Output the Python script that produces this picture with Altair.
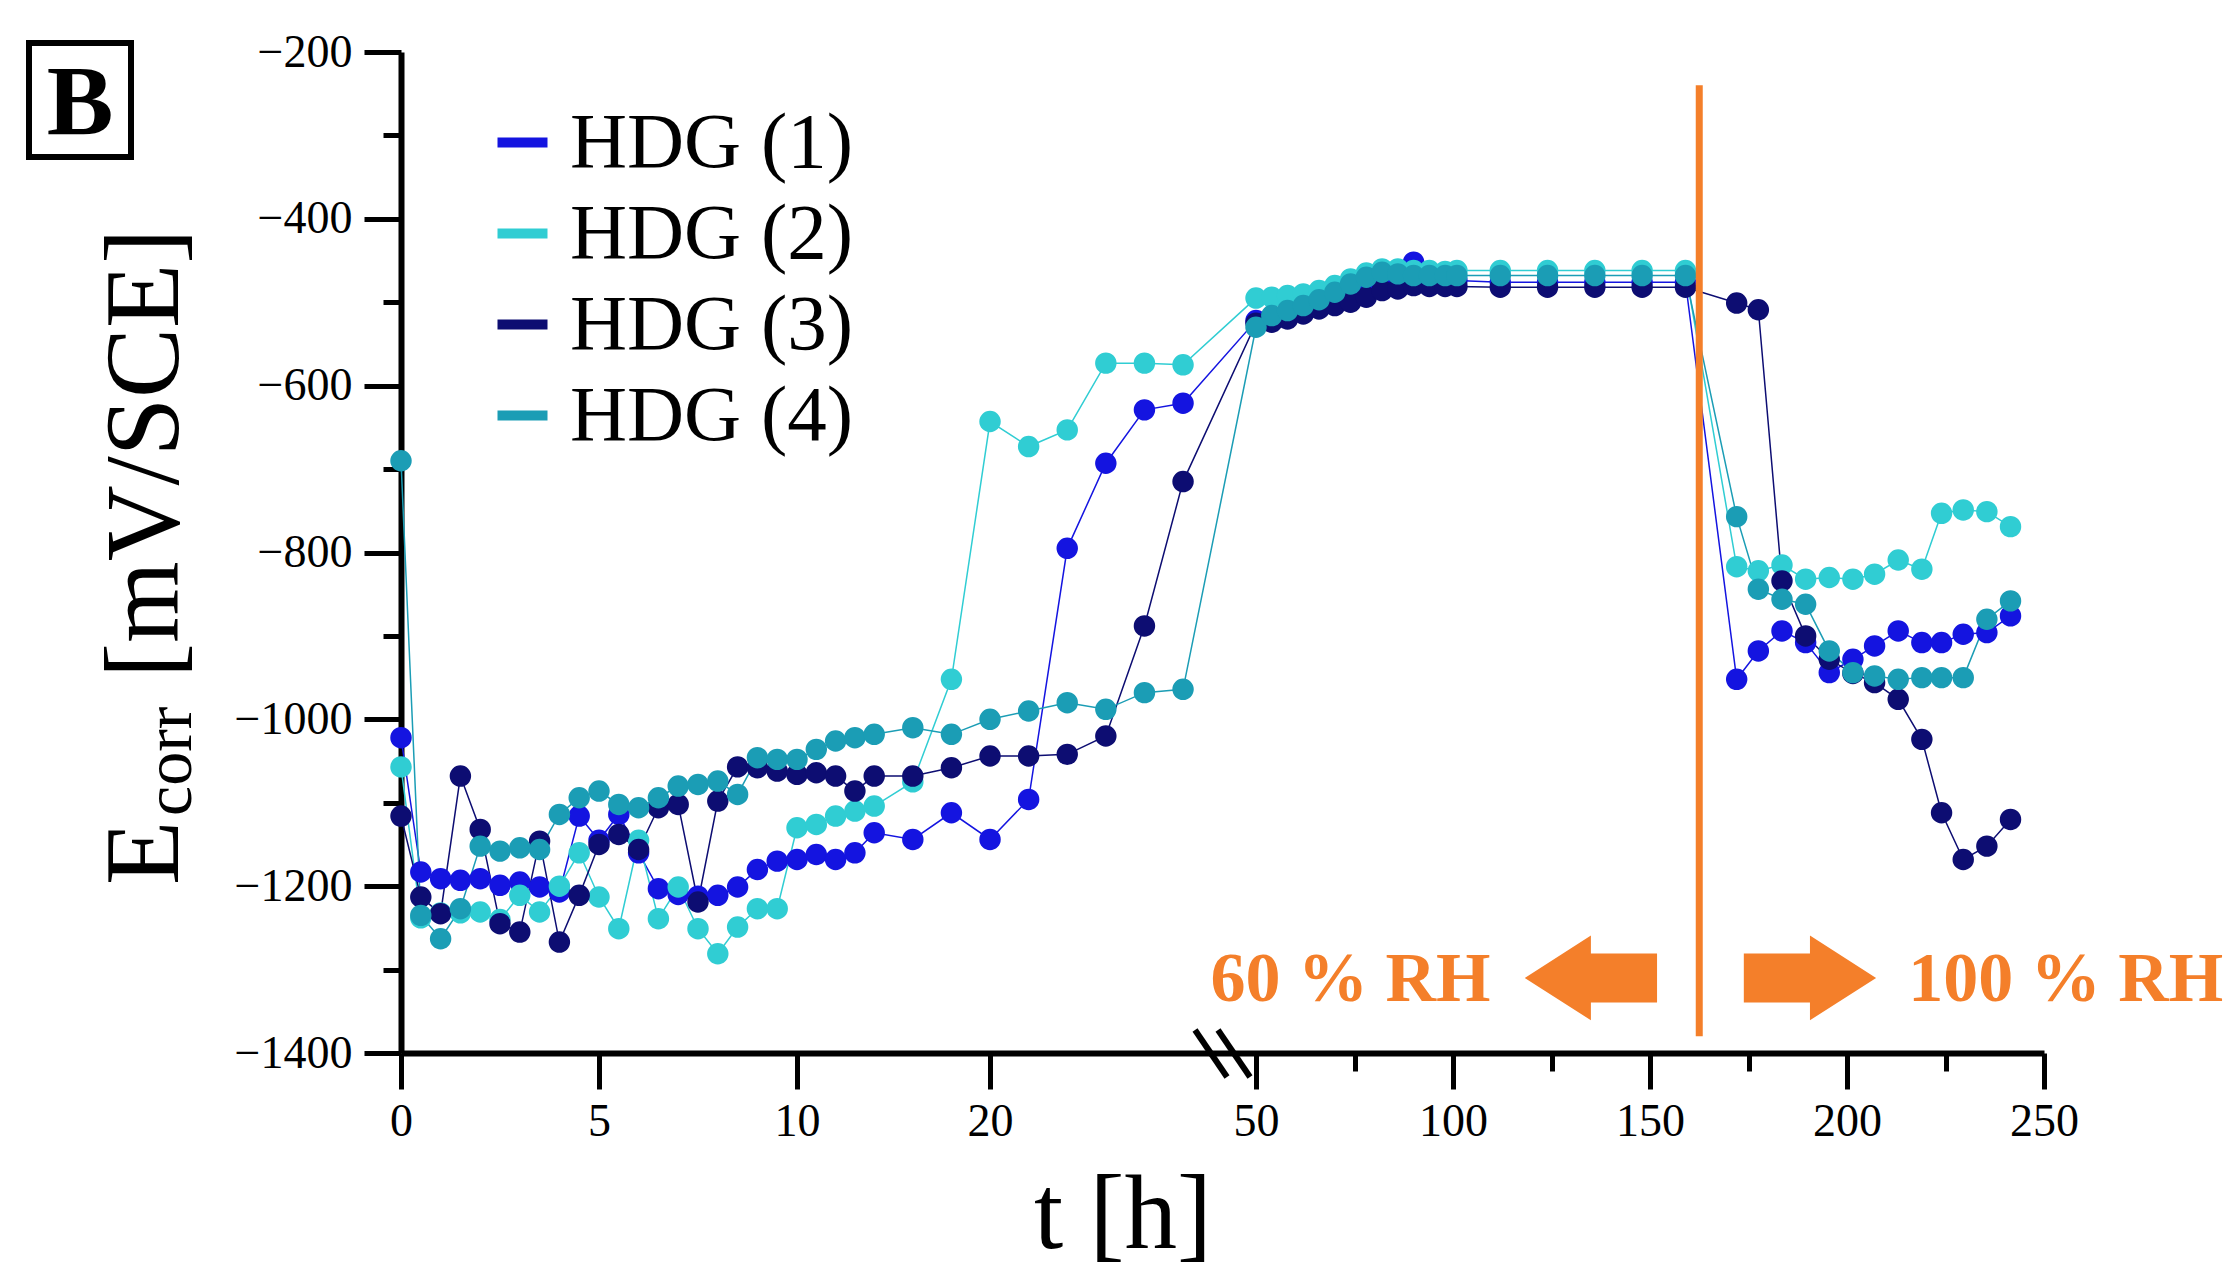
import altair as alt
import pandas as pd

series = ["HDG (1)", "HDG (2)", "HDG (3)", "HDG (4)"]
colors = ["#1414E0", "#30CDD3", "#0D0D72", "#1B9DB5"]
orange = "#F47F2A"
font = "Liberation Serif"

# measurement times [h]
t_first = [0, 0.5, 1, 1.5, 2, 2.5, 3, 3.5, 4, 4.5, 5, 5.5, 6, 6.5, 7, 7.5, 8, 8.5, 9, 9.5, 10]
t_second = [11, 12, 13, 14, 16, 18, 20, 22, 24, 26, 28, 30]
t_plateau = [50, 54, 58, 62, 66, 70, 74, 78, 82, 86, 90, 94, 98, 101, 112, 124, 136, 148, 159]
t_wet = [172, 177.5, 183.5, 189.5, 195.5, 201.5, 207, 213, 219, 224, 229.5, 235.5, 241.5]
times = t_first + t_second + t_plateau + t_wet

# Ecorr [mV/SCE]
e_hdg1 = [-1022, -1183, -1191, -1193, -1191, -1199, -1195, -1201, -1207, -1116, -1145,
          -1114, -1160, -1203, -1210, -1212, -1211, -1201, -1180, -1170, -1168,
          -1162, -1168, -1160, -1136, -1144, -1112, -1144, -1096, -795, -693, -629, -621,
          -522, -520, -515, -510, -503, -496, -488, -480, -474, -468, -452, -468, -472,
          -474, -476, -476, -476, -476, -476,
          -952, -918, -894, -908, -944, -928, -912, -894, -908, -908, -898, -896, -876]
e_hdg2 = [-1057, -1238, -1232, -1232, -1231, -1240, -1211, -1231, -1200, -1160, -1213,
          -1251, -1145, -1239, -1201, -1251, -1281, -1249, -1227, -1227, -1130,
          -1126, -1116, -1110, -1104, -1075, -952, -643, -673, -653, -573, -573, -575,
          -495, -494, -492, -490, -486, -480, -472, -465, -460, -460, -462, -462, -463,
          -462, -462, -462, -462, -462, -462,
          -817, -822, -815, -832, -830, -832, -826, -809, -820, -753, -749, -751, -769]
e_hdg3 = [-1116, -1213, -1233, -1068, -1132, -1245, -1255, -1146, -1267, -1211, -1150,
          -1138, -1156, -1106, -1102, -1219, -1098, -1057, -1058, -1062, -1066,
          -1064, -1068, -1086, -1068, -1068, -1058, -1044, -1044, -1042, -1020, -888, -715,
          -525, -524, -520, -514, -508, -504, -500, -494, -486, -484, -480, -481, -481,
          -481, -482, -482, -482, -482, -482,
          -501, -509, -834, -900, -928, -945, -956, -976, -1024, -1112, -1168, -1152, -1120]
e_hdg4 = [-690, -1235, -1263, -1227, -1152, -1158, -1154, -1156, -1114, -1094, -1086,
          -1102, -1106, -1094, -1080, -1078, -1074, -1090, -1046, -1048, -1048,
          -1036, -1026, -1022, -1018, -1010, -1018, -1000, -990, -980, -988, -968, -964,
          -530, -516, -510, -504, -497, -488, -478, -470, -464, -466, -468, -468, -468,
          -468, -468, -468, -468, -468, -468,
          -757, -844, -856, -862, -918, -944, -948, -952, -950, -950, -950, -880, -858]

x_ticks = [0, 5, 10, 20, 50, 100, 150, 200, 250]
x_minor = [75, 125, 175, 225]
y_ticks = [-200, -400, -600, -800, -1000, -1200, -1400]
y_minor = [-300, -500, -700, -900, -1100, -1300]

# broken time axis: piecewise scale
x_breaks = [0, 10, 31.5, 50, 250]
x_pixels = [0, 396, 811, 855, 1643]

# humidity switch and annotations
rh_switch = [162.5]
rh_labels = ["60 % RH", "100 % RH"]
rh_label_t = [74, 255.5]
rh_label_e = [-1312, -1312]
arrow_dir = ["left", "right"]
arrow_t = [135, 190.6]
arrow_e = [-1310, -1310]

rows = []
for name, vals in zip(series, [e_hdg1, e_hdg2, e_hdg3, e_hdg4]):
    for t, e in zip(times, vals):
        rows.append({"series": name, "t": t, "e": e})
df = pd.DataFrame(rows)

x_scale = alt.Scale(domain=x_breaks, range=x_pixels, zero=False, nice=False)
y_scale = alt.Scale(domain=[-1400, -200], zero=False, nice=False)
x_axis = alt.Axis(values=x_ticks, title=None, grid=False, tickSize=36, labelPadding=10,
                  labelFlush=False, labelOverlap=False, format="d")
y_axis = alt.Axis(values=y_ticks, title=None, grid=False, tickSize=37, labelPadding=12,
                  labelFlush=False, labelOverlap=False, format="d")
X = alt.X("t:Q", scale=x_scale, axis=x_axis)
Y = alt.Y("e:Q", scale=y_scale, axis=y_axis)

lines = alt.Chart(df).mark_line(strokeWidth=1.5).encode(
    x=X, y=Y,
    color=alt.Color("series:N", scale=alt.Scale(domain=series, range=colors),
                    legend=alt.Legend(title=None, orient="none", legendX=82, legendY=51,
                                      symbolType="stroke", symbolStrokeWidth=10, symbolSize=2500,
                                      symbolOpacity=1, labelFont=font, labelFontSize=79,
                                      labelColor="black", labelOffset=8, rowPadding=11,
                                      labelLimit=0, padding=0)),
    order="t:Q",
)

points = alt.Chart(df).mark_circle(size=460, opacity=1).encode(
    x=X, y=Y,
    color=alt.Color("series:N", scale=alt.Scale(domain=series, range=colors), legend=None),
)

switch = alt.Chart(pd.DataFrame({"t": rh_switch, "e": [-240], "e2": [-1380]})).mark_rule(
    color=orange, strokeWidth=7).encode(x=X, y=Y, y2="e2:Q")

arrow_left = "M-1,0L0,-0.64L0,-0.37L1,-0.37L1,0.37L0,0.37L0,0.64Z"
arrow_right = "M1,0L0,-0.64L0,-0.37L-1,-0.37L-1,0.37L0,0.37L0,0.64Z"
arrows = alt.Chart(pd.DataFrame({"t": arrow_t, "e": arrow_e, "dir": arrow_dir})).mark_point(
    filled=True, size=17500, opacity=1, color=orange, strokeWidth=0).encode(
    x=X, y=Y,
    shape=alt.Shape("dir:N", scale=alt.Scale(domain=arrow_dir, range=[arrow_left, arrow_right]),
                    legend=None),
)

rh_text = alt.Chart(pd.DataFrame({"t": rh_label_t, "e": rh_label_e, "label": rh_labels})).mark_text(
    font=font, fontSize=70, fontWeight="bold", color=orange, align="center", baseline="middle"
).encode(x=X, y=Y, text="label:N")

one = pd.DataFrame({"p": [0]})

breaks = alt.layer(
    alt.Chart(one).mark_rule(color="black", strokeWidth=6).encode(
        x=alt.value(794), x2=alt.value(826), y=alt.value(978), y2=alt.value(1025)),
    alt.Chart(one).mark_rule(color="black", strokeWidth=6).encode(
        x=alt.value(817), x2=alt.value(849), y=alt.value(978), y2=alt.value(1025)),
)

panel_box = alt.Chart(one).mark_rect(fill="white", fillOpacity=0, stroke="black", strokeWidth=6).encode(
    x=alt.value(-372), x2=alt.value(-270), y=alt.value(-9), y2=alt.value(105))
panel_letter = alt.Chart(one).mark_text(text="B", font=font, fontSize=100, fontWeight="bold",
                                        color="black", align="center", baseline="alphabetic").encode(
    x=alt.value(-321), y=alt.value(82))

y_title = alt.layer(
    alt.Chart(one).mark_text(text="E", font=font, fontSize=105, angle=270, align="left",
                             baseline="alphabetic", color="black").encode(
        x=alt.value(-223), y=alt.value(833)),
    alt.Chart(one).mark_text(text="corr", font=font, fontSize=68, angle=270, align="left",
                             baseline="alphabetic", color="black").encode(
        x=alt.value(-210), y=alt.value(764)),
    alt.Chart(one).mark_text(text="[mV/SCE]", font=font, fontSize=105, angle=270, align="left",
                             baseline="alphabetic", color="black").encode(
        x=alt.value(-223), y=alt.value(626)),
)

x_title = alt.Chart(one).mark_text(text="t [h]", font=font, fontSize=105, align="center",
                                   baseline="alphabetic", color="black").encode(
    x=alt.value(722), y=alt.value(1196))

main = alt.layer(lines, points, switch, arrows, rh_text, breaks, panel_box, panel_letter,
                 y_title, x_title).resolve_scale(color="independent")

minor = alt.Chart(df).mark_point(opacity=0).encode(
    x=alt.X("t:Q", scale=x_scale,
            axis=alt.Axis(values=x_minor, orient="bottom", labels=False, domain=False, grid=False,
                          tickSize=18, title=None)),
    y=alt.Y("e:Q", scale=y_scale,
            axis=alt.Axis(values=y_minor, orient="left", labels=False, domain=False, grid=False,
                          tickSize=18, title=None)),
)

chart = alt.layer(main, minor).resolve_axis(x="independent", y="independent").properties(
    width=1643, height=1001,
    autosize=alt.AutoSizeParams(type="none"),
    padding={"left": 393, "top": 44, "right": 185, "bottom": 232},
).configure_view(strokeWidth=0).configure_axis(
    domainColor="black", domainWidth=6, tickColor="black", tickWidth=5,
    labelColor="black", labelFont=font, labelFontSize=46,
)

chart.save("out.html", embed_options={"renderer": "svg", "actions": False})
